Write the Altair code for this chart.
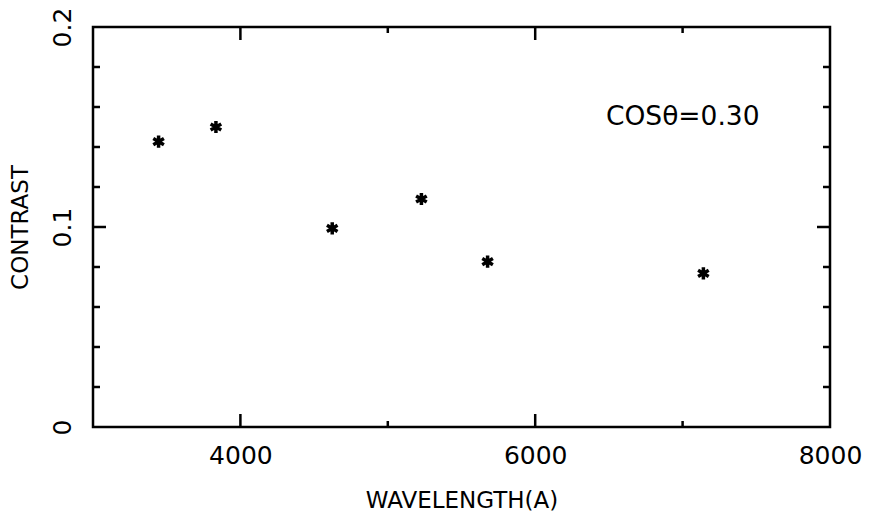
import altair as alt
import pandas as pd

# data
wavelength = [3445, 3834, 4623, 5228, 5677, 7141]
contrast = [0.1427, 0.150, 0.0993, 0.114, 0.0827, 0.0768]

x_label_values = [4000, 6000, 8000]
y_label_values = [0, 0.1, 0.2]
x_major_ticks = [4000, 6000]
x_minor_ticks = [5000, 7000]
y_major_ticks = [0.1]
y_minor_ticks = [0.02, 0.04, 0.06, 0.08, 0.12, 0.14, 0.16, 0.18]

note_text = ["COS\u03b8=0.30"]
note_x = [6480]
note_y = [0.155]

W, H = 737, 400
FONT = "DejaVu Sans"
LONG, SHORT = 13, 6

xs = alt.Scale(domain=[3000, 8000], nice=False, zero=False)
ys = alt.Scale(domain=[0, 0.2], nice=False, zero=False)

pts = pd.DataFrame({"w": wavelength, "c": contrast})

star = "M0,-1L0,1M-0.866,-0.5L0.866,0.5M-0.866,0.5L0.866,-0.5"

points = alt.Chart(pts).mark_point(
    shape=star, filled=False, stroke="black", strokeWidth=3.5, size=150, opacity=1
).encode(
    x=alt.X("w:Q", scale=xs, axis=alt.Axis(
        values=x_label_values, format="d", title="WAVELENGTH(A)",
        ticks=False, tickSize=0, domain=False, grid=False,
        labelFont=FONT, labelFontSize=25, labelColor="black", labelPadding=16,
        titleFont=FONT, titleFontSize=23, titleFontWeight="normal", titleColor="black",
        titlePadding=21, labelFlush=False)),
    y=alt.Y("c:Q", scale=ys, axis=alt.Axis(
        values=y_label_values, format=".1~f", title="CONTRAST",
        ticks=False, tickSize=0, domain=False, grid=False,
        labelFont=FONT, labelFontSize=25, labelColor="black", labelPadding=18,
        labelAngle=-90, labelAlign="center", labelBaseline="bottom",
        titleFont=FONT, titleFontSize=23, titleFontWeight="normal", titleColor="black",
        titlePadding=18, labelFlush=False)),
)

def xticks(vals, length):
    df = pd.DataFrame({"v": vals})
    bottom = alt.Chart(df).mark_rule(color="black", strokeWidth=2.5).encode(
        x=alt.X("v:Q", scale=xs), y=alt.value(H), y2=alt.value(H - length))
    top = alt.Chart(df).mark_rule(color="black", strokeWidth=2.5).encode(
        x=alt.X("v:Q", scale=xs), y=alt.value(0), y2=alt.value(length))
    return [bottom, top]

def yticks(vals, length):
    df = pd.DataFrame({"v": vals})
    left = alt.Chart(df).mark_rule(color="black", strokeWidth=2.5).encode(
        y=alt.Y("v:Q", scale=ys), x=alt.value(0), x2=alt.value(length))
    right = alt.Chart(df).mark_rule(color="black", strokeWidth=2.5).encode(
        y=alt.Y("v:Q", scale=ys), x=alt.value(W), x2=alt.value(W - length))
    return [left, right]

note = alt.Chart(pd.DataFrame({"t": note_text, "x": note_x, "y": note_y})).mark_text(
    align="left", baseline="middle", font=FONT, fontSize=26.5, color="black"
).encode(x=alt.X("x:Q", scale=xs), y=alt.Y("y:Q", scale=ys), text="t:N")

layers = [points, note]
layers += xticks(x_major_ticks, LONG) + xticks(x_minor_ticks, SHORT)
layers += yticks(y_major_ticks, LONG) + yticks(y_minor_ticks, SHORT + 1)

chart = alt.layer(*layers).properties(
    width=W, height=H,
    autosize=alt.AutoSizeParams(type="none"),
    padding={"left": 85, "top": 19, "right": 33, "bottom": 90},
    background="white",
).configure_view(stroke="black", strokeWidth=2.5)

chart.save("out.html", embed_options={"renderer": "svg", "actions": False})
